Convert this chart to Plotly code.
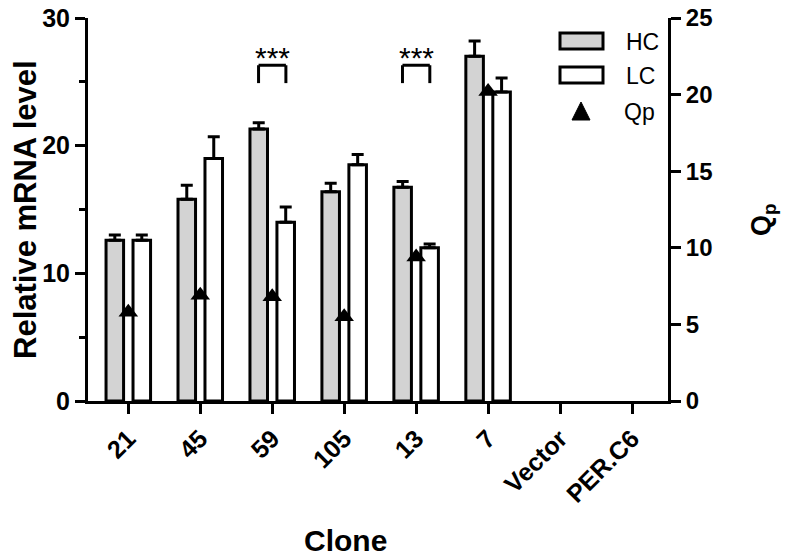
import plotly.graph_objects as go

# datos
clones = ["21", "45", "59", "105", "13", "7", "Vector", "PER.C6"]
hc = [12.6, 15.8, 21.3, 16.4, 16.75, 27.0, None, None]
hc_err = [0.4, 1.1, 0.5, 0.65, 0.45, 1.2, None, None]
lc = [12.6, 19.0, 14.0, 18.5, 12.0, 24.2, None, None]
lc_err = [0.4, 1.7, 1.2, 0.8, 0.3, 1.1, None, None]
qp = [5.8, 6.9, 6.8, 5.5, 9.4, 20.2, None, None]
sig_pairs = ["59", "13"]  # HC vs LC, ***

FONT = "Liberation Sans, Arial, sans-serif"
W, H = 786, 560
L, R, T, B = 88, 118, 18, 159


def px2paper(x, y):
    # pixel de la figura -> coordenadas paper (solo para leyenda / textos)
    return (x - L) / (W - L - R), (H - B - y) / (H - T - B)


fig = go.Figure()

fig.add_trace(go.Bar(
    x=clones, y=hc, name="HC",
    marker=dict(color="#d3d3d3", line=dict(color="black", width=3)),
    error_y=dict(type="data", symmetric=False, array=hc_err,
                 arrayminus=[0] * len(hc), thickness=3, width=6, color="black"),
))
fig.add_trace(go.Bar(
    x=clones, y=lc, name="LC",
    marker=dict(color="white", line=dict(color="black", width=3)),
    error_y=dict(type="data", symmetric=False, array=lc_err,
                 arrayminus=[0] * len(lc), thickness=3, width=6, color="black"),
))
fig.add_trace(go.Scatter(
    x=clones, y=qp, name="Qp", mode="markers", yaxis="y2",
    marker=dict(symbol="triangle-up", size=17, color="black"),
))

# corchetes de significancia
for c in sig_pairs:
    i = clones.index(c)
    x0, x1 = i - 0.19, i + 0.19
    for xa, ya, xb, yb in [(x0, 24.9, x0, 26.3), (x0, 26.3, x1, 26.3), (x1, 26.3, x1, 24.9)]:
        fig.add_shape(type="line", xref="x", yref="y", x0=xa, y0=ya, x1=xb, y1=yb,
                      line=dict(color="black", width=3))
    fig.add_annotation(x=i, y=26.9, xref="x", yref="y", text="***", showarrow=False,
                       xanchor="center", yanchor="middle",
                       font=dict(family=FONT, size=30, color="black"))

# leyenda a mano (cajas anchas como en la original)
for (name, fill, ytop) in [("HC", "#d3d3d3", 33), ("LC", "white", 67)]:
    ax0, ay0 = px2paper(560, ytop + 16)
    ax1, ay1 = px2paper(603, ytop)
    fig.add_shape(type="rect", xref="paper", yref="paper", x0=ax0, y0=ay0, x1=ax1, y1=ay1,
                  fillcolor=fill, line=dict(color="black", width=3))
    tx, ty = px2paper(624, ytop + 9)
    fig.add_annotation(x=tx, y=ty, xref="paper", yref="paper", text=name, showarrow=False,
                       xanchor="left", yanchor="middle",
                       font=dict(family=FONT, size=23, color="black"))
p1 = px2paper(572, 120)
p2 = px2paper(590, 120)
p3 = px2paper(581, 102)
fig.add_shape(type="path", xref="paper", yref="paper",
              path=f"M{p1[0]},{p1[1]} L{p2[0]},{p2[1]} L{p3[0]},{p3[1]} Z",
              fillcolor="black", line=dict(color="black", width=1))
tx, ty = px2paper(622, 112)
fig.add_annotation(x=tx, y=ty, xref="paper", yref="paper", text="Qp", showarrow=False,
                   xanchor="left", yanchor="middle",
                   font=dict(family=FONT, size=23, color="black"))

# titulos
cx, cy = px2paper(345, 540)
fig.add_annotation(x=cx, y=cy, xref="paper", yref="paper", text="<b>Clone</b>", showarrow=False,
                   xanchor="center", yanchor="middle",
                   font=dict(family=FONT, size=30, color="black"))
qx, qy = px2paper(763, 220)
fig.add_annotation(x=qx, y=qy, xref="paper", yref="paper", text="<b>Q<sub>p</sub></b>",
                   showarrow=False, textangle=-90, xanchor="center", yanchor="middle",
                   font=dict(family=FONT, size=27, color="black"))
lx, ly = px2paper(25, 210)
fig.add_annotation(x=lx, y=ly, xref="paper", yref="paper", text="<b>Relative mRNA level</b>",
                   showarrow=False, textangle=-90, xanchor="center", yanchor="middle",
                   font=dict(family=FONT, size=31, color="black"))

axis_common = dict(showline=True, linecolor="black", linewidth=3, ticks="outside",
                   tickwidth=3, tickcolor="black", showgrid=False, zeroline=False,
                   automargin=False, ticklabeloverflow="allow")

fig.update_layout(
    width=W, height=H,
    margin=dict(l=L, r=R, t=T, b=B, autoexpand=False),
    plot_bgcolor="white", paper_bgcolor="white",
    showlegend=False,
    barmode="group", bargap=0.25, bargroupgap=0.35,
    font=dict(family=FONT, color="black"),
    xaxis=dict(**axis_common, type="category", range=[-0.56, 7.5], ticklen=10, tickangle=-45,
               tickfont=dict(family=FONT, size=25, weight="bold")),
    yaxis=dict(**axis_common, range=[0, 30], dtick=10, ticklen=10,
               minor=dict(dtick=5, ticks="outside", ticklen=6, tickwidth=3, tickcolor="black"),
               tickfont=dict(family=FONT, size=25, weight="bold")),
    yaxis2=dict(**axis_common, overlaying="y", side="right", range=[0, 25], dtick=5,
                ticklen=10, tickfont=dict(family=FONT, size=24, weight="bold")),
)

# sin margen en <body> para que la figura ocupe la ventana desde (0, 0)
fig.write_html("out.html", config={"displayModeBar": False},
               post_script="document.body.style.margin = '0';")
